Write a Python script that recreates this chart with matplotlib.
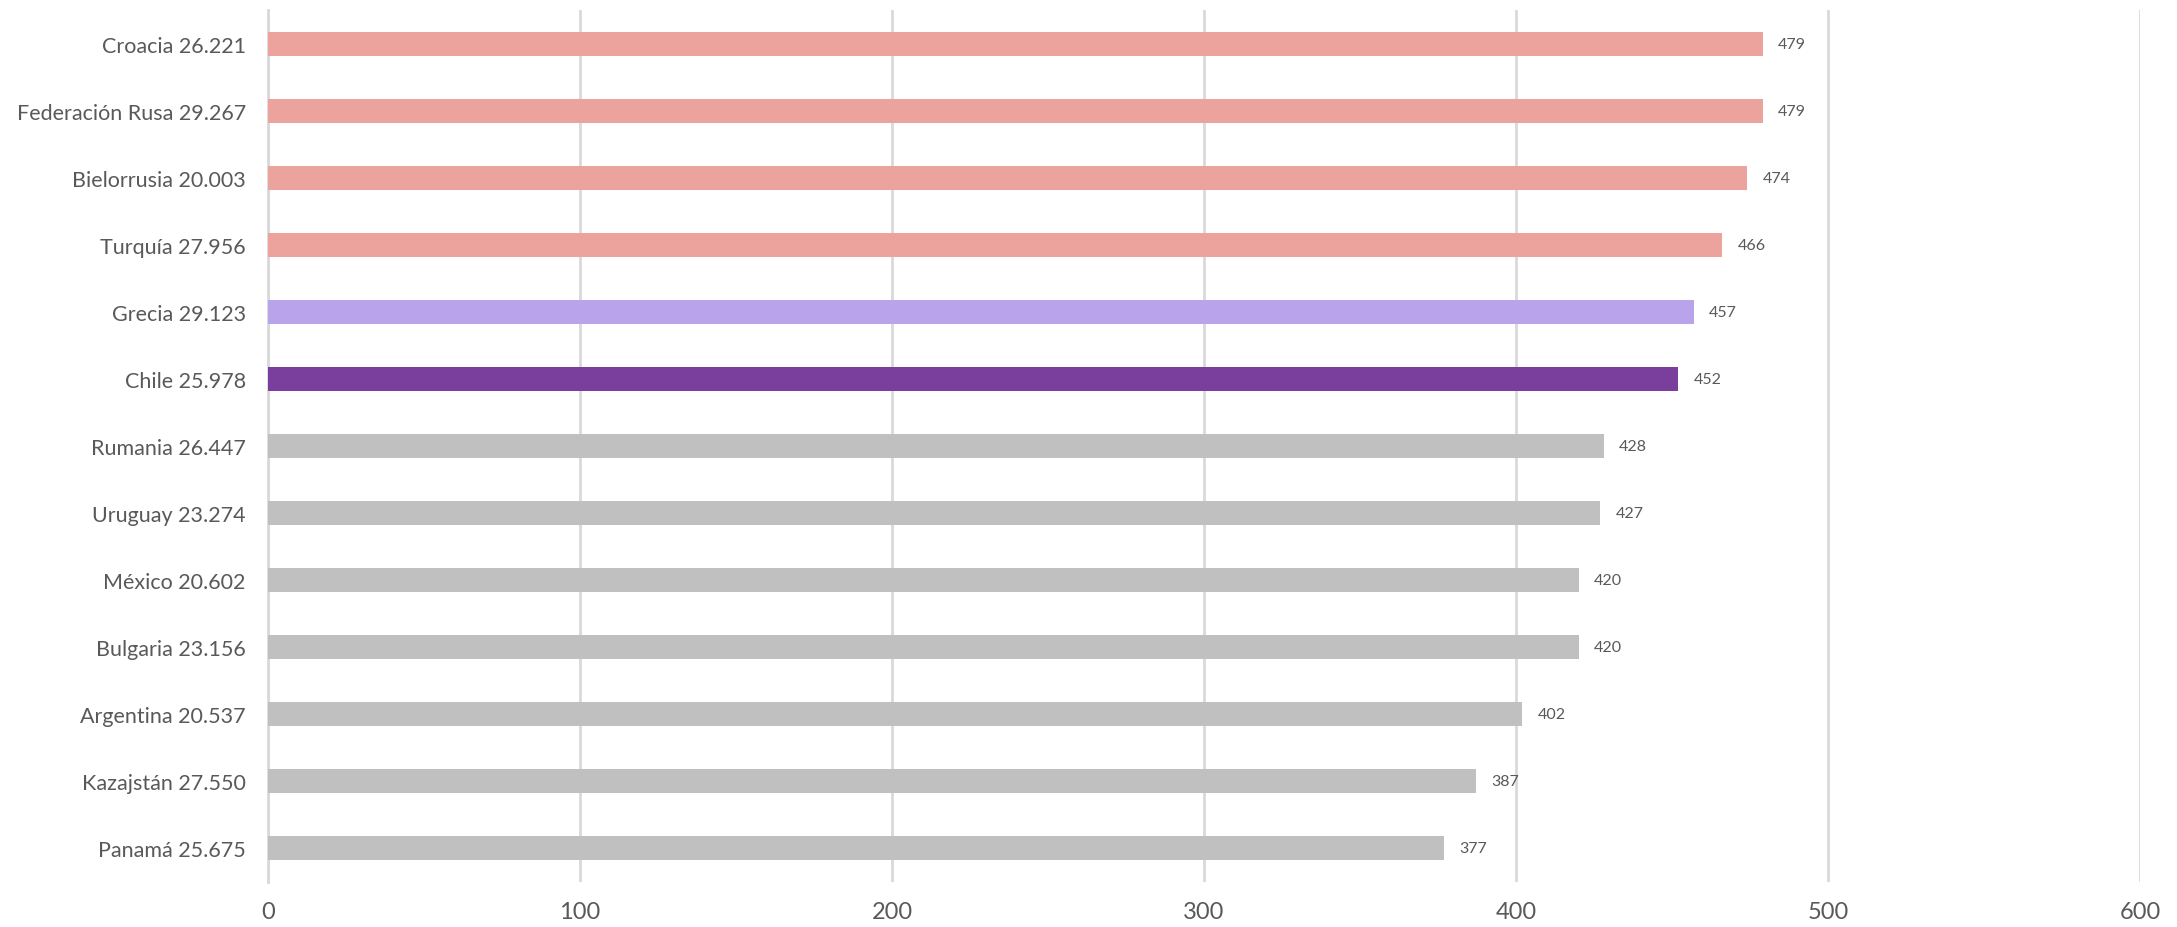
import matplotlib.pyplot as plt

# data, top to bottom as in the chart
paises = ['Croacia 26.221', 'Federación Rusa 29.267', 'Bielorrusia 20.003',
          'Turquía 27.956', 'Grecia 29.123', 'Chile 25.978', 'Rumania 26.447',
          'Uruguay 23.274', 'México 20.602', 'Bulgaria 23.156',
          'Argentina 20.537', 'Kazajstán 27.550', 'Panamá 25.675']
puntaje = [479, 479, 474, 466, 457, 452, 428, 427, 420, 420, 402, 387, 377]
grupo = ['alto', 'alto', 'alto', 'alto', 'grecia', 'chile', 'bajo', 'bajo',
         'bajo', 'bajo', 'bajo', 'bajo', 'bajo']
colores = {'alto': '#ECA29D', 'grecia': '#B9A3EA', 'chile': '#7A3E9D', 'bajo': '#C0C0C0'}

plt.rcParams['font.family'] = ['Lato', 'DejaVu Sans']
gris = '#595959'

fig = plt.figure(figsize=(21.77, 9.28), dpi=100)
ax = fig.add_axes([0.1231, 0.0485, 0.8600, 0.9395])

y = list(range(len(paises)))[::-1]
bars = ax.barh(y, puntaje, height=0.357, color=[colores[g] for g in grupo], zorder=3)

for b, v in zip(bars, puntaje):
    ax.annotate(str(v), (b.get_width(), b.get_y() + b.get_height() / 2),
                xytext=(11, 0), textcoords='offset points', va='center',
                ha='left', fontsize=11.5, color=gris)

ax.set_xlim(0, 600)
ax.set_ylim(-0.5, len(paises) - 0.5)
ax.set_xticks(range(0, 601, 100))
ax.set_yticks(y)
ax.set_yticklabels(paises, fontsize=15.5)
ax.tick_params(axis='both', length=0, colors=gris)
ax.tick_params(axis='x', labelsize=17, pad=14)
ax.tick_params(axis='y', pad=16)
ax.grid(axis='x', color='#D9D9D9', linewidth=2, zorder=0)
for s in ['top', 'right', 'bottom']:
    ax.spines[s].set_visible(False)
ax.spines['left'].set_color('#D9D9D9')
ax.spines['left'].set_linewidth(2)

fig.savefig('out.png', dpi=100)
